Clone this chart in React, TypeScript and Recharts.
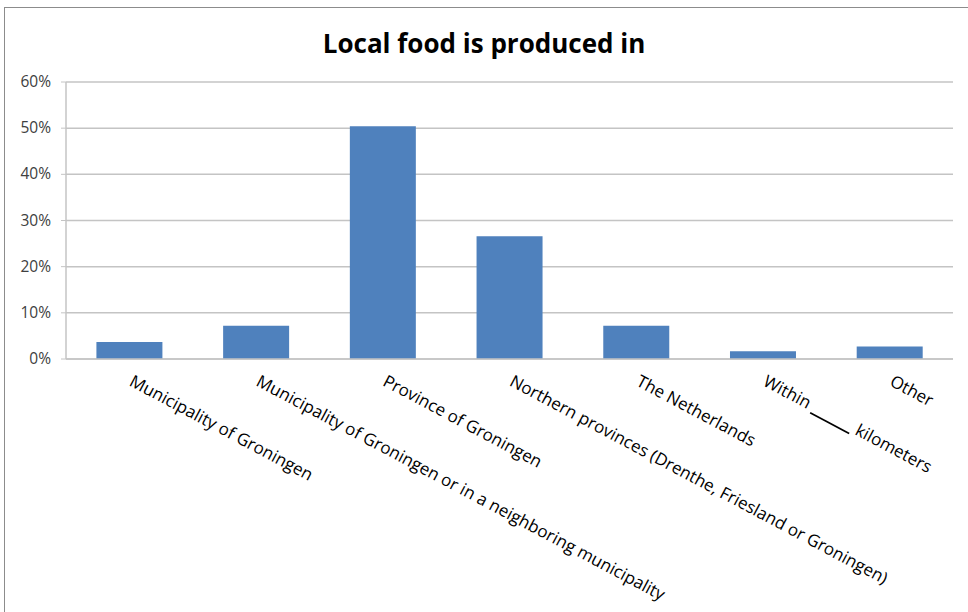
import { BarChart, Bar, XAxis, YAxis, CartesianGrid } from "recharts"

const categories = [
  "Municipality of Groningen",
  "Municipality of Groningen or in a neighboring municipality",
  "Province of Groningen",
  "Northern provinces (Drenthe, Friesland or Groningen)",
  "The Netherlands",
  "Within ____ kilometers",
  "Other",
]
const shares = [0.037, 0.072, 0.504, 0.266, 0.072, 0.017, 0.027]
const yTicks = [0, 0.1, 0.2, 0.3, 0.4, 0.5, 0.6]

const data = categories.map((name, i) => ({ name, value: shares[i] }))

const FONT = "'Open Sans', 'DejaVu Sans', sans-serif"

function AngledTick(props: any) {
  const { x, y, payload } = props
  const label: string = payload.value
  const parts = label.split("____")
  return (
    <g transform={`translate(${x - 1},${y + 18}) rotate(28)`}>
      <text x={0} y={0} textAnchor="start" fontFamily={FONT} fontSize={17} fill="#000">
        {parts.length > 1 ? (
          <>
            {parts[0]}
            <tspan textDecoration="underline">{"\u00A0".repeat(10)}</tspan>
            {parts[1]}
          </>
        ) : (
          label
        )}
      </text>
    </g>
  )
}

function YTick(props: any) {
  const { y, payload } = props
  // right edge of the labels sits ~15px left of the axis line
  return (
    <text x={51} y={y} dy={5} textAnchor="end" fontFamily={FONT} fontSize={15.5} fill="#404040">
      {`${Math.round(payload.value * 100)}%`}
    </text>
  )
}

export default function App() {
  return (
    <div style={{ position: "absolute", left: 0, top: 0, width: 968, height: 612, background: "#fff", overflow: "hidden" }}>
      <div
        style={{
          position: "absolute",
          left: 4,
          top: 7,
          width: 980,
          height: 620,
          border: "1px solid #8c8c8c",
        }}
      />
      <div
        style={{
          position: "absolute",
          top: 25,
          left: 0,
          width: 968,
          textAlign: "center",
          fontFamily: FONT,
          fontWeight: 700,
          fontSize: 26,
          color: "#000",
        }}
      >
        Local food is produced in
      </div>
      <div style={{ position: "absolute", left: 0, top: 0 }}>
        <BarChart
          width={968}
          height={612}
          data={data}
          margin={{ top: 82, right: 15, left: 6, bottom: 0 }}
          barCategoryGap="24%"
        >
          <CartesianGrid vertical={false} stroke="#c4c4c4" strokeWidth={1.5} />
          <XAxis
            dataKey="name"
            height={253}
            interval={0}
            tickLine={false}
            axisLine={{ stroke: "#c4c4c4", strokeWidth: 1.5 }}
            tick={<AngledTick />}
          />
          <YAxis
            width={60}
            domain={[0, 0.6]}
            ticks={yTicks}
            axisLine={{ stroke: "#c4c4c4", strokeWidth: 1.5 }}
            tickLine={{ stroke: "#c4c4c4" }}
            tickSize={5}
            tick={<YTick />}
          />
          <Bar dataKey="value" fill="#4F81BD" isAnimationActive={false} />
        </BarChart>
      </div>
    </div>
  )
}
